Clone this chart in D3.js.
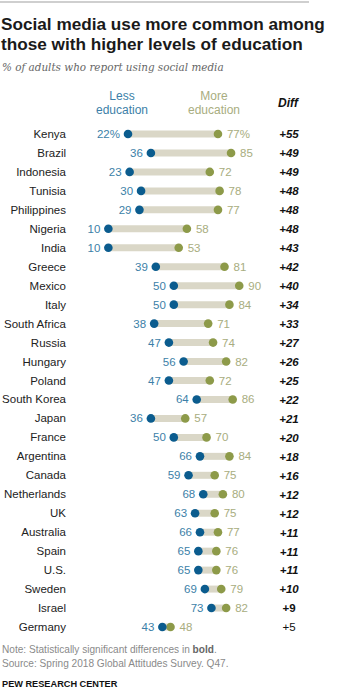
<!DOCTYPE html>
<html>
<head>
<meta charset="utf-8">
<script src="https://cdn.jsdelivr.net/npm/d3@7"></script>
<style>
  body { margin: 0; background: #fff; }
  svg { display: block; font-family: "Liberation Sans", Arial, sans-serif; }
</style>
</head>
<body>
<div id="chart"></div>
<script>
// data
const countries = ["Kenya", "Brazil", "Indonesia", "Tunisia", "Philippines", "Nigeria", "India", "Greece", "Mexico", "Italy", "South Africa", "Russia", "Hungary", "Poland", "South Korea", "Japan", "France", "Argentina", "Canada", "Netherlands", "UK", "Australia", "Spain", "U.S.", "Sweden", "Israel", "Germany"];
const lessEdu = [22, 36, 23, 30, 29, 10, 10, 39, 50, 50, 38, 47, 56, 47, 64, 36, 50, 66, 59, 68, 63, 66, 65, 65, 69, 73, 43];
const moreEdu = [77, 85, 72, 78, 77, 58, 53, 81, 90, 84, 71, 74, 82, 72, 86, 57, 70, 84, 75, 80, 75, 77, 76, 76, 79, 82, 48];
const diffs = [55, 49, 49, 48, 48, 48, 43, 42, 40, 34, 33, 27, 26, 25, 22, 21, 20, 18, 16, 12, 12, 11, 11, 11, 10, 9, 5];
// "bold" = significant; italic on most of them, Israel plain bold
const diffStyle = ["bi", "bi", "bi", "bi", "bi", "bi", "bi", "bi", "bi", "bi", "bi", "bi", "bi", "bi", "bi", "bi", "bi", "bi", "bi", "bi", "bi", "bi", "bi", "bi", "bi", "b", "n"];

const width = 338, height = 700;
const blue = "#0b5c8e", olive = "#8d9a49";
const blueText = "#3c7fa8", oliveText = "#a8ad80";

const svg = d3.select("#chart").append("svg")
    .attr("width", width)
    .attr("height", height);

// top rule
svg.append("line")
    .attr("x1", 0).attr("x2", 309)
    .attr("y1", 2).attr("y2", 2)
    .attr("stroke", "#cfcfcf")
    .attr("stroke-width", 2);

// title
const title = ["Social media use more common among", "those with higher levels of education"];
svg.append("g").selectAll("text")
    .data(title)
    .enter().append("text")
    .attr("x", 1)
    .attr("y", (d, i) => 30 + i * 20)
    .attr("font-size", 17.2)
    .attr("font-weight", "bold")
    .attr("fill", "#1a1a1a")
    .text(d => d);

svg.append("text")
    .attr("x", 2).attr("y", 71)
    .attr("font-family", "'DejaVu Serif', Georgia, serif")
    .attr("font-style", "italic")
    .attr("font-size", 10.4)
    .attr("fill", "#666")
    .text("% of adults who report using social media");

const x = d3.scaleLinear().domain([0, 100]).range([92, 255.6]);
const y = d3.scalePoint().domain(countries).range([134, 627]);

// legend
const legend = svg.append("g").attr("font-size", 12);
["Less", "education"].forEach((t, i) => legend.append("text")
    .attr("x", 122).attr("y", 100 + i * 13.5)
    .attr("text-anchor", "middle").attr("fill", blueText).text(t));
["More", "education"].forEach((t, i) => legend.append("text")
    .attr("x", 214).attr("y", 100 + i * 13.5)
    .attr("text-anchor", "middle").attr("fill", oliveText).text(t));
legend.append("text")
    .attr("x", 288).attr("y", 107)
    .attr("text-anchor", "middle")
    .attr("font-weight", "bold").attr("font-style", "italic")
    .attr("fill", "#111")
    .text("Diff");

const rows = svg.append("g").selectAll("g")
    .data(countries)
    .enter().append("g")
    .attr("transform", d => "translate(0," + y(d) + ")");

rows.append("text")
    .attr("x", 66).attr("dy", "0.35em")
    .attr("text-anchor", "end")
    .attr("font-size", 11.5)
    .attr("fill", "#222")
    .text(d => d);

rows.append("line")
    .attr("x1", (d, i) => x(lessEdu[i]))
    .attr("x2", (d, i) => x(moreEdu[i]))
    .attr("stroke", "#dad7c7")
    .attr("stroke-width", 7);

rows.append("circle")
    .attr("cx", (d, i) => x(moreEdu[i]))
    .attr("r", 4.3)
    .attr("fill", olive);

rows.append("circle")
    .attr("cx", (d, i) => x(lessEdu[i]))
    .attr("r", 4.3)
    .attr("fill", blue);

rows.append("text")
    .attr("x", (d, i) => x(lessEdu[i]) - 8)
    .attr("dy", "0.35em")
    .attr("text-anchor", "end")
    .attr("font-size", 11.5)
    .attr("fill", blueText)
    .text((d, i) => lessEdu[i] + (i === 0 ? "%" : ""));

rows.append("text")
    .attr("x", (d, i) => x(moreEdu[i]) + 9)
    .attr("dy", "0.35em")
    .attr("font-size", 11.5)
    .attr("fill", oliveText)
    .text((d, i) => moreEdu[i] + (i === 0 ? "%" : ""));

rows.append("text")
    .attr("x", 289).attr("dy", "0.38em")
    .attr("text-anchor", "middle")
    .attr("font-size", 11.5)
    .attr("font-weight", (d, i) => diffStyle[i] !== "n" ? "bold" : "normal")
    .attr("font-style", (d, i) => diffStyle[i] === "bi" ? "italic" : "normal")
    .attr("fill", "#111")
    .text((d, i) => "+" + diffs[i]);

// notes
const note = svg.append("text")
    .attr("x", 2).attr("y", 653)
    .attr("font-size", 10.1)
    .attr("fill", "#8a8a8a");
note.append("tspan").text("Note: Statistically significant differences in ");
note.append("tspan").attr("font-weight", "bold").attr("fill", "#666").text("bold");
note.append("tspan").text(".");

svg.append("text")
    .attr("x", 2).attr("y", 667)
    .attr("font-size", 10.1)
    .attr("fill", "#8a8a8a")
    .text("Source: Spring 2018 Global Attitudes Survey. Q47.");

svg.append("text")
    .attr("x", 2).attr("y", 687)
    .attr("font-size", 9.2)
    .attr("font-weight", "bold")
    .attr("fill", "#111")
    .text("PEW RESEARCH CENTER");
</script>
</body>
</html>
